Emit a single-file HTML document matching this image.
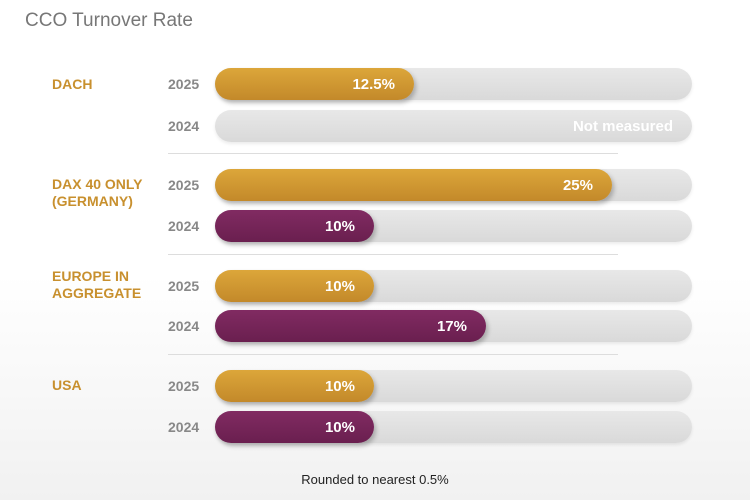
<!DOCTYPE html>
<html><head><style>
body{margin:0;width:750px;height:500px;overflow:hidden;font-family:"Liberation Sans",sans-serif;background:linear-gradient(#fff 0%,#fff 55%,#f1f1f1 100%);position:relative}
.t{position:absolute;left:25px;top:10px;font-size:19px;color:#777}
.c{position:absolute;left:52px;font-size:14px;font-weight:bold;color:#c8902e;line-height:17px}
.y{position:absolute;left:168px;font-size:14px;font-weight:bold;color:#888;line-height:16px}
.tr{position:absolute;left:215px;width:477px;height:32px;border-radius:16px;background:linear-gradient(#e8e8e8,#d9d9d9);box-shadow:0 2px 3px rgba(0,0,0,0.08)}
.f{position:absolute;left:215px;height:32px;border-radius:16px;color:#fff;font-weight:bold;font-size:15px;line-height:34px;text-align:right;box-sizing:border-box;padding-right:19px;box-shadow:2px 3px 5px rgba(0,0,0,0.25)}
.g{background:linear-gradient(#dca63a,#c3892a)}
.p{background:linear-gradient(#812b62,#6a1f4f)}
.s{position:absolute;left:168px;width:450px;height:1px;background:#ddd}
.n{position:absolute;left:0;width:750px;top:472px;text-align:center;font-size:13px;color:#222}
</style></head><body>
<div class="t">CCO Turnover Rate</div>

<div class="c" style="top:76px">DACH</div>
<div class="c" style="top:176px">DAX 40 ONLY<br>(GERMANY)</div>
<div class="c" style="top:268px">EUROPE IN<br>AGGREGATE</div>
<div class="c" style="top:377px">USA</div>

<div class="y" style="top:76px">2025</div>
<div class="y" style="top:118px">2024</div>
<div class="y" style="top:177px">2025</div>
<div class="y" style="top:218px">2024</div>
<div class="y" style="top:278px">2025</div>
<div class="y" style="top:318px">2024</div>
<div class="y" style="top:378px">2025</div>
<div class="y" style="top:419px">2024</div>

<div class="tr" style="top:68px"></div>
<div class="tr" style="top:110px"></div>
<div class="tr" style="top:169px"></div>
<div class="tr" style="top:210px"></div>
<div class="tr" style="top:270px"></div>
<div class="tr" style="top:310px"></div>
<div class="tr" style="top:370px"></div>
<div class="tr" style="top:411px"></div>

<div class="f g" style="top:68px;width:199px">12.5%</div>
<div class="f" style="top:110px;width:477px;box-shadow:none">Not measured</div>
<div class="f g" style="top:169px;width:397px">25%</div>
<div class="f p" style="top:210px;width:159px">10%</div>
<div class="f g" style="top:270px;width:159px">10%</div>
<div class="f p" style="top:310px;width:271px">17%</div>
<div class="f g" style="top:370px;width:159px">10%</div>
<div class="f p" style="top:411px;width:159px">10%</div>

<div class="s" style="top:153px"></div>
<div class="s" style="top:254px"></div>
<div class="s" style="top:354px"></div>

<div class="n">Rounded to nearest 0.5%</div>
</body></html>
